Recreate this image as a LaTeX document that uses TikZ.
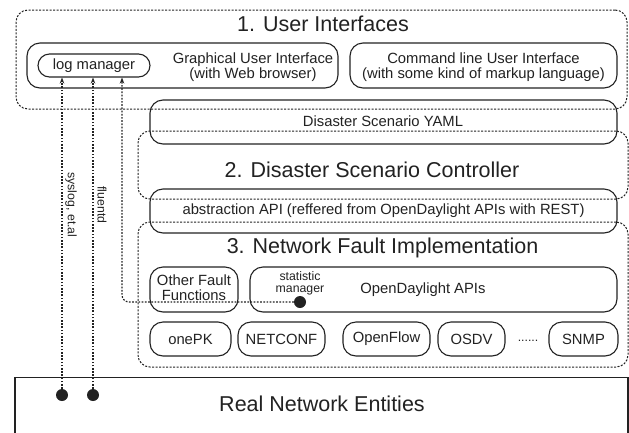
\documentclass[tikz,border=0pt]{standalone}
\usepackage{fontspec}
\setmainfont{Liberation Sans}
\usetikzlibrary{arrows.meta}
\definecolor{ink}{HTML}{222222}
\begin{document}
\begin{tikzpicture}[x=1pt,y=-1pt,
 every node/.style={inner sep=0pt, text=ink},
 solidbox/.style={draw=ink, line width=1.1pt, rounded corners=13pt},
 layerbox/.style={draw=ink, line width=1pt, dash pattern=on 2pt off 1.5pt, rounded corners=12pt},
 conn/.style={draw=ink, line width=1.2pt, dash pattern=on 1.7pt off 1.5pt, -{Stealth[length=6pt,width=4.5pt]}},
 dotnode/.style={circle, fill=ink, minimum size=12pt},
 big/.style={font=\fontsize{21.5}{24}\selectfont},
 mid/.style={font=\fontsize{14.8}{15}\selectfont, align=center},
 small/.style={font=\fontsize{12.3}{12.5}\selectfont, align=center},
]
\fill[white] (0,0) rectangle (629,432);
\useasboundingbox (0,0) rectangle (629,432);

% layers
\node[layerbox, minimum width=611pt, minimum height=99pt] (L1) at (321.5,59.5) {};
\node[layerbox, minimum width=490pt, minimum height=68pt] (L2) at (383,165) {};
\node[layerbox, minimum width=490pt, minimum height=145pt] (L3) at (383,294.5) {};

% layer 1
\node[big] (t1) at (323,24) {1. User Interfaces};
\node[solidbox, minimum width=311pt, minimum height=45pt] (gui) at (182.5,65.5) {};
\node[mid] (guitxt) at (253,67.5) {Graphical User Interface\\(with Web browser)};
\node[solidbox, minimum width=267pt, minimum height=45pt] (cli) at (483.5,65.5) {};
\node[mid] (clitxt) at (483.5,67.5) {Command line User Interface\\(with some kind of markup language)};
\node[solidbox, rounded corners=11.5pt, minimum width=112pt, minimum height=23pt, mid] (logmgr) at (94,65.5) {log manager};

% YAML
\node[solidbox, minimum width=467pt, minimum height=44pt] (yaml) at (383.5,122) {};
\node[mid] (yamltxt) at (383,121) {Disaster Scenario YAML};

% layer 2
\node[big] (t2) at (372,169.5) {2. Disaster Scenario Controller};
\node[solidbox, minimum width=467pt, minimum height=44pt] (api) at (383.5,211) {};
\node[mid] (apitxt) at (383.5,210.5) {abstraction API (reffered from OpenDaylight APIs with REST)};

% layer 3
\node[big] (t3) at (382.5,247.5) {3. Network Fault Implementation};
\node[solidbox, minimum width=88pt, minimum height=45pt] (off) at (194,289.5) {};
\node[mid] (offtxt) at (194,287.5) {Other Fault\\Functions};
\node[solidbox, minimum width=367pt, minimum height=45pt] (odl) at (433.5,289.5) {};
\node[small] (stat) at (300,283.5) {statistic\\manager};
\node[mid] (odltxt) at (423,289.5) {OpenDaylight APIs};

\node[solidbox, minimum width=81pt, minimum height=34pt, mid] (onepk) at (190.5,339) {onePK};
\node[solidbox, minimum width=87pt, minimum height=34pt, mid] (netconf) at (281.5,339) {NETCONF};
\node[solidbox, minimum width=87pt, minimum height=34pt, mid] (openflow) at (386.5,339) {OpenFlow};
\node[solidbox, minimum width=67pt, minimum height=34pt, mid] (osdv) at (471.5,339) {OSDV};
\node[small, anchor=base] (ellip) at (528,341) {......};
\node[solidbox, minimum width=69pt, minimum height=34pt, mid] (snmp) at (583.5,339) {SNMP};

% real network
\node[draw=ink, line width=1.1pt, minimum width=613pt, minimum height=90pt, anchor=north] (real) at (321.5,377) {};
\node[big] (realtxt) at (322,404) {Real Network Entities};

% dots
\node[dotnode] (dot1) at (62,395) {};
\node[dotnode] (dot2) at (93,395) {};
\node[dotnode] (dot3) at (300,302) {};

% connectors
\draw[conn] (dot1.north) -- (dot1 |- logmgr.south);
\draw[conn] (dot2.north) -- (dot2 |- logmgr.south);
\draw[conn, rounded corners=7pt] (dot3.west) -| ([xshift=28pt]logmgr.south);

% labels
\node[small, rotate=-90] (lab1) at (71,205) {syslog, et.al};
\node[small, rotate=-90] (lab2) at (102,205) {fluentd};
\end{tikzpicture}
\end{document}
